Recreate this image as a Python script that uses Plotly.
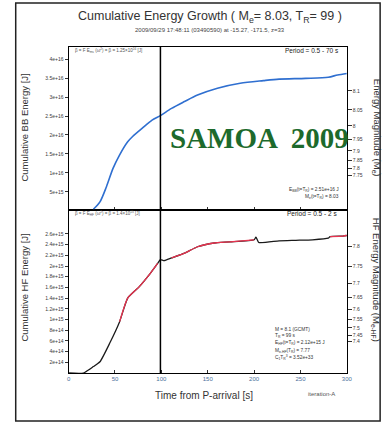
import numpy as np
import plotly.graph_objects as go

W, H = 392, 423

# ---- data ----
t_bb = [26.7, 33.8, 40.8, 47.9, 54.9, 63.7, 69, 79.5, 90, 99, 111, 125, 139,
        160.5, 185, 210, 227, 255.5, 280, 290, 300]
e_bb = [0.45e15, 2.4e15, 6.4e15, 11.2e15, 14.7e15, 18.2e15, 19.6e15, 21.8e15,
        23.9e15, 25.1e15, 27.0e15, 28.8e15, 30.5e15, 32.3e15, 33.6e15, 34.3e15,
        34.7e15, 34.9e15, 35.2e15, 35.8e15, 36.2e15]

t_hf = [0, 16, 26.7, 33.8, 44.4, 55, 63.7, 76, 86.6, 96, 99, 103, 111, 125, 139,
        157, 174, 200, 202, 205, 227, 245, 263, 280, 282, 296, 300]
e_hf = [0.0, 0.0, 0.12e15, 0.21e15, 0.56e15, 0.96e15, 1.40e15, 1.61e15, 1.83e15,
        2.05e15, 2.12e15, 2.10e15, 2.15e15, 2.24e15, 2.36e15, 2.43e15, 2.45e15,
        2.49e15, 2.54e15, 2.44e15, 2.47e15, 2.48e15, 2.49e15, 2.52e15, 2.55e15,
        2.56e15, 2.57e15]
# colour bands along the HF curve (start, end)
hf_red_bands = [(55, 96), (111, 200), (282, 300)]

T_R = 99
E_BB_TR = 2.51e16
ME_TR = 8.03
E_HF_TR = 2.12e15
ME_HF_TR = 7.77

x_ticks = [0, 50, 100, 150, 200, 250, 300]
bb_ticks = [5e15, 1e16, 1.5e16, 2e16, 2.5e16, 3e16, 3.5e16, 4e16]
bb_labels = ["5e+15", "1e+16", "1.5e+16", "2e+16", "2.5e+16", "3e+16", "3.5e+16", "4e+16"]
hf_ticks = [2e14 * k for k in range(1, 14)]
hf_labels = ["2e+14", "4e+14", "6e+14", "8e+14", "1e+15", "1.2e+15", "1.4e+15",
             "1.6e+15", "1.8e+15", "2e+15", "2.2e+15", "2.4e+15", "2.6e+15"]
me_ticks = [8.1, 8.05, 8.0, 7.95, 7.9, 7.85, 7.8, 7.75]
mehf_ticks = [7.8, 7.75, 7.7, 7.65, 7.6, 7.55, 7.5, 7.45, 7.4]


def me_to_energy(m, c):
    # Me = 2/3 log10(E) + c
    return 10 ** (1.5 * (m - c))


def fmt(m):
    return f"{m:.2f}".rstrip("0").rstrip(".")


px = lambda x: x / W
py = lambda y: 1 - y / H

xd = [px(68), px(352)]
top_dom = [py(209.5), py(47)]
bot_dom = [py(373), py(209.5)]
bb_range = [0.39e15, 43.16e15]
hf_range = [0.0, 3.056e15]

fig = go.Figure()

fig.add_trace(go.Scatter(x=t_bb, y=e_bb, mode="lines", xaxis="x2", yaxis="y",
                         line=dict(color="#2f6fd0", width=1.6, shape="spline", smoothing=0.8),
                         hoverinfo="skip", showlegend=False))

fig.add_trace(go.Scatter(x=t_hf, y=e_hf, mode="lines", xaxis="x", yaxis="y3",
                         line=dict(color="#1a1a1a", width=1.3, shape="spline", smoothing=0.5),
                         hoverinfo="skip", showlegend=False))
for a, b in hf_red_bands:
    xs = [t for t in t_hf if a <= t <= b]
    ys = [e for t, e in zip(t_hf, e_hf) if a <= t <= b]
    fig.add_trace(go.Scatter(x=xs, y=ys, mode="lines", xaxis="x", yaxis="y3",
                             line=dict(color="#e8334f", width=1.3, shape="spline", smoothing=0.5),
                             hoverinfo="skip", showlegend=False))

# magnitude axes carry the same energy values, shown on the right-hand scales
fig.add_trace(go.Scatter(x=t_bb, y=e_bb, mode="lines", xaxis="x2", yaxis="y2",
                         line=dict(width=0), opacity=0, hoverinfo="skip", showlegend=False))
fig.add_trace(go.Scatter(x=t_hf, y=e_hf, mode="lines", xaxis="x", yaxis="y4",
                         line=dict(width=0), opacity=0, hoverinfo="skip", showlegend=False))

tick_font = dict(family="Liberation Sans", size=5, color="#3a3a3a")

fig.update_layout(
    width=W, height=H, margin=dict(l=0, r=0, t=0, b=0),
    paper_bgcolor="white", plot_bgcolor="white",
    xaxis=dict(domain=xd, range=[0, 300], anchor="y3", showline=True,
               linecolor="black", linewidth=1.2, mirror=True, showgrid=False,
               zeroline=False, ticks="inside", ticklen=3, tickcolor="#333",
               tickvals=x_ticks, ticktext=[str(v) for v in x_ticks],
               tickfont=dict(family="Liberation Sans", size=6, color="#4a6f9a")),
    xaxis2=dict(domain=xd, range=[0, 300], anchor="y", matches="x", showline=True,
                linecolor="black", linewidth=1.2, mirror=True, showgrid=False,
                zeroline=False, ticks="inside", ticklen=2, tickcolor="#333",
                tickvals=x_ticks, showticklabels=False),
    yaxis=dict(domain=top_dom, range=bb_range, anchor="x2", showline=True,
               linecolor="black", linewidth=1.2, mirror=True, showgrid=False,
               zeroline=False, ticks="outside", ticklen=3, tickcolor="#333",
               tickvals=bb_ticks, ticktext=bb_labels, tickfont=tick_font),
    yaxis2=dict(overlaying="y", side="right", anchor="x2", range=bb_range,
                showgrid=False, zeroline=False, showline=False,
                ticks="outside", ticklen=4, tickcolor="#333",
                tickvals=[me_to_energy(m, -2.9) for m in me_ticks],
                ticktext=[fmt(m) for m in me_ticks], tickfont=tick_font),
    yaxis3=dict(domain=bot_dom, range=hf_range, anchor="x", showline=True,
                linecolor="black", linewidth=1.2, mirror=True, showgrid=False,
                zeroline=False, ticks="outside", ticklen=3, tickcolor="#333",
                tickvals=hf_ticks, ticktext=hf_labels, tickfont=tick_font),
    yaxis4=dict(overlaying="y3", side="right", anchor="x", range=hf_range,
                showgrid=False, zeroline=False, showline=False,
                ticks="outside", ticklen=4, tickcolor="#333",
                tickvals=[me_to_energy(m, -2.45) for m in mehf_ticks],
                ticktext=[fmt(m) for m in mehf_ticks], tickfont=tick_font),
)

# rupture-duration marker and outer frame
fig.add_shape(type="line", xref="x", yref="paper", x0=T_R, x1=T_R,
              y0=py(373), y1=py(47), line=dict(color="black", width=1.5))
fig.add_shape(type="rect", xref="paper", yref="paper", x0=px(14), x1=px(386),
              y0=py(421), y1=py(3), line=dict(color="#222", width=1.5))

ann = []


def note(x, y, text, size, color="#222", xanchor="center", family="Liberation Sans",
         angle=0):
    ann.append(dict(x=px(x), y=py(y), xref="paper", yref="paper", text=text,
                    showarrow=False, xanchor=xanchor, yanchor="middle",
                    textangle=angle, font=dict(family=family, size=size, color=color)))


note(212, 17, "Cumulative Energy Growth ( M<sub>e</sub>= 8.03, T<sub>R</sub>= 99 )", 12.5, "#333")
note(212, 30, "2009/09/29 17:48:11 (03490590) at -15.27, -171.5, z=33", 6, "#444")

note(72, 51, "β = F E<sub>ms</sub> (ω<sup>2</sup>) = β = 1.25×10<sup>16</sup> [J]", 4.5, "#555", xanchor="left")
note(72, 214, "β = F E<sub>HF</sub> (ω<sup>2</sup>) = β = 1.4×10<sup>15</sup> [J]", 4.5, "#555", xanchor="left")
note(346, 51, "Period = 0.5 - 70 s", 6.5, "#222", xanchor="right")
note(344, 214, "Period = 0.5 - 2 s", 6.5, "#222", xanchor="right")

note(346, 190, f"E<sub>BB</sub>(t=T<sub>R</sub>) = {E_BB_TR:.2e} J", 4.8, "#333", xanchor="right")
note(346, 197, f"M<sub>e</sub>(t=T<sub>R</sub>) = {ME_TR:.2f}", 4.8, "#333", xanchor="right")

hf_lines = [
    "M = 8.1 (GCMT)",
    f"T<sub>R</sub> = {T_R} s",
    f"E<sub>HF</sub>(t=T<sub>R</sub>) = {E_HF_TR:.2e} J",
    f"M<sub>e-HF</sub>(T<sub>R</sub>) = {ME_HF_TR:.2f}",
    "C<sub>1</sub>T<sub>R</sub><sup>3</sup> = 3.52e+33",
]
for i, line in enumerate(hf_lines):
    note(277, 329 + i * 7.2, line, 4.8, "#333", xanchor="left")

note(263, 138, "<b>SAMOA  2009</b>", 29, "#1d6a2c", family="Liberation Serif")

note(206, 395, "Time from P-arrival [s]", 10, "#333")
note(326, 394, "iteration-A", 6, "#555")

note(22, 128, "Cumulative BB Energy [J]", 9.5, "#333", angle=-90)
note(22, 288, "Cumulative HF Energy [J]", 9.5, "#333", angle=-90)
note(383, 128, "Energy Magnitude (M<sub>e</sub>)", 9.5, "#333", angle=90)
note(382, 280, "HF Energy Magnitude (M<sub>e-HF</sub>)", 9.5, "#333", angle=90)

fig.update_layout(annotations=ann)
fig.write_html("out.html")
